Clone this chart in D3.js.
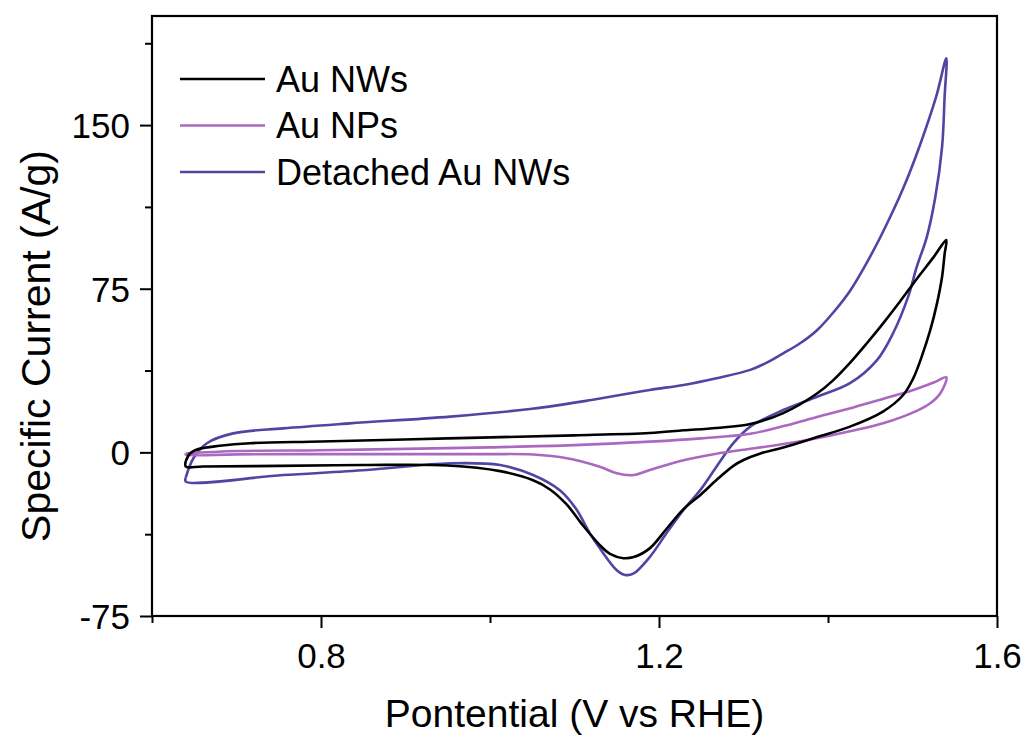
<!DOCTYPE html>
<html>
<head>
<meta charset="utf-8">
<script src="https://cdn.jsdelivr.net/npm/d3@7"></script>
<style>
  body { margin: 0; background: #fff; }
  text { font-family: "Liberation Sans", Arial, Helvetica, sans-serif; fill: #000; }
</style>
</head>
<body>
<svg id="chart" width="1027" height="737"></svg>
<script>
// ---------- data ----------
const seriesNames  = ["Au NWs", "Au NPs", "Detached Au NWs"];
const seriesColors = ["#000000", "#ab68c0", "#4f46a3"];

const xMajorTicks = [0.8, 1.2, 1.6];
const xMinorTicks = [0.6, 1.0, 1.4];
const yMajorTicks = [-75, 0, 75, 150];
const yMinorTicks = [-37.5, 37.5, 112.5, 187.5];

// Au NWs (black) — anodic (forward) and cathodic (reverse) scans
const nwFwdE = [0.640, 0.645, 0.655, 0.680, 0.716, 0.800, 0.950, 1.100, 1.189, 1.229, 1.268, 1.308, 1.347, 1.387, 1.406, 1.426, 1.446, 1.465, 1.485, 1.505, 1.525, 1.540];
const nwFwdI = [-4, -0.5, 1.5, 3, 4.2, 5, 6.4, 7.8, 8.9, 10.1, 11.2, 13, 18, 27, 33, 41, 50, 59, 69, 79.5, 89.5, 97.3];
const nwRevE = [1.540, 1.538, 1.535, 1.529, 1.521, 1.511, 1.501, 1.489, 1.465, 1.426, 1.387, 1.347, 1.320, 1.300, 1.288, 1.268, 1.249, 1.229, 1.209, 1.189, 1.170, 1.158, 1.142, 1.130, 1.110, 1.091, 1.071, 1.051, 1.012, 0.950, 0.850, 0.750, 0.660, 0.640];
const nwRevI = [97.3, 91, 80.5, 68.3, 56, 44, 34, 26.3, 18.7, 11.8, 7.0, 2.2, -0.5, -3.5, -6.2, -12.7, -19.5, -26, -35, -44, -48, -48.5, -46.5, -42.5, -33.5, -24, -17, -12.8, -8.6, -6.0, -5.8, -6.2, -6.5, -6.5];

// Au NPs (pink)
const npFwdE = [0.640, 0.700, 0.800, 0.900, 1.000, 1.100, 1.189, 1.250, 1.308, 1.350, 1.387, 1.430, 1.465, 1.501, 1.525, 1.540];
const npFwdI = [-0.5, 0.6, 1.0, 1.6, 2.3, 3.3, 4.9, 6.4, 8.5, 12.3, 16.2, 20.6, 24.5, 28.6, 32, 34.4];
const npRevE = [1.540, 1.533, 1.521, 1.505, 1.465, 1.406, 1.347, 1.300, 1.268, 1.229, 1.189, 1.170, 1.150, 1.130, 1.091, 1.051, 1.000, 0.900, 0.800, 0.700, 0.640];
const npRevI = [34.4, 27.1, 22.5, 19, 13.3, 8, 3.8, 1.2, -0.6, -3.6, -8.1, -10.4, -9.6, -6.6, -2.7, -1.0, -0.8, -0.8, -0.8, -0.9, -1.0];

// Detached Au NWs (blue)
const dnFwdE = [0.640, 0.649, 0.665, 0.696, 0.755, 0.834, 0.953, 1.050, 1.120, 1.189, 1.229, 1.268, 1.308, 1.327, 1.347, 1.367, 1.387, 1.406, 1.426, 1.446, 1.465, 1.489, 1.509, 1.528, 1.540];
const dnFwdI = [-11.5, -2.7, 4.2, 8.7, 11, 13.3, 16.4, 20, 24, 28.6, 30.9, 34, 37.8, 41, 45.4, 50, 56, 64, 74, 87, 101, 121, 141, 163, 180.6];
const dnRevE = [1.540, 1.538, 1.535, 1.527, 1.517, 1.505, 1.495, 1.477, 1.458, 1.426, 1.387, 1.347, 1.308, 1.288, 1.268, 1.249, 1.229, 1.209, 1.189, 1.170, 1.160, 1.150, 1.130, 1.118, 1.102, 1.083, 1.051, 1.012, 0.953, 0.854, 0.755, 0.640];
const dnRevI = [180.6, 163, 140, 117, 98.8, 85, 71.5, 54.6, 42.3, 31.7, 25.5, 19.4, 11.8, 4.2, -6.6, -17.2, -26.4, -37, -48, -55.5, -56.2, -54, -44, -37, -26, -17.5, -10.4, -5.8, -5.0, -8.1, -10.4, -13.4];

// ---------- layout ----------
const svg = d3.select("#chart");
const W = 1027, H = 737;
const plot = { left: 152, right: 997, top: 16, bottom: 616 };

svg.append("rect").attr("width", W).attr("height", H).attr("fill", "#fff");

const x = d3.scaleLinear().domain([0.6, 1.6]).range([plot.left, plot.right]);
const y = d3.scaleLinear().domain([-75, 200]).range([plot.bottom, plot.top]);

function loop(fE, fI, rE, rI) {
  const pts = fE.map((e, i) => [e, fI[i]]);
  rE.forEach((e, i) => { if (i > 0) pts.push([e, rI[i]]); });
  pts.push([fE[0], fI[0]]);
  return pts;
}
const loops = [
  loop(nwFwdE, nwFwdI, nwRevE, nwRevI),
  loop(npFwdE, npFwdI, npRevE, npRevI),
  loop(dnFwdE, dnFwdI, dnRevE, dnRevI)
];

const line = d3.line()
  .x(d => x(d[0])).y(d => y(d[1]))
  .curve(d3.curveCatmullRom.alpha(0.5));

const drawOrder = [2, 1, 0];
drawOrder.forEach(k => {
  svg.append("path")
    .datum(loops[k])
    .attr("d", line)
    .attr("fill", "none")
    .attr("stroke", seriesColors[k])
    .attr("stroke-width", 2.6)
    .attr("stroke-linejoin", "round");
});

// ---------- axes ----------
const fontTick = 35;
const plainNum = d => String(d);

const xAxisMajor = d3.axisBottom(x).tickValues(xMajorTicks).tickSize(12).tickSizeOuter(0).tickFormat(d3.format(".1f"));
const xAxisMinor = d3.axisBottom(x).tickValues(xMinorTicks).tickSize(7).tickSizeOuter(0).tickFormat("");
const yAxisMajor = d3.axisLeft(y).tickValues(yMajorTicks).tickSize(12).tickSizeOuter(0).tickFormat(plainNum);
const yAxisMinor = d3.axisLeft(y).tickValues(yMinorTicks).tickSize(7).tickSizeOuter(0).tickFormat("");

function styleAxis(g) {
  g.select(".domain").remove();
  g.selectAll(".tick line").attr("stroke", "#000").attr("stroke-width", 2);
  g.selectAll("text").attr("font-size", fontTick).attr("font-family", "'Liberation Sans', Arial, sans-serif").attr("fill", "#000");
}

const gxM = svg.append("g").attr("transform", `translate(0,${plot.bottom})`).call(xAxisMajor).call(styleAxis);
gxM.selectAll("text").attr("y", 0).attr("dy", null).attr("transform", "translate(0,52)");
svg.append("g").attr("transform", `translate(0,${plot.bottom})`).call(xAxisMinor).call(styleAxis);

const gyM = svg.append("g").attr("transform", `translate(${plot.left},0)`).call(yAxisMajor).call(styleAxis);
gyM.selectAll("text").attr("x", -22).attr("dy", "0.36em");
svg.append("g").attr("transform", `translate(${plot.left},0)`).call(yAxisMinor).call(styleAxis);

// frame
svg.append("rect")
  .attr("x", plot.left).attr("y", plot.top)
  .attr("width", plot.right - plot.left).attr("height", plot.bottom - plot.top)
  .attr("fill", "none").attr("stroke", "#000").attr("stroke-width", 2.2);

// axis titles
svg.append("text")
  .attr("x", (plot.left + plot.right) / 2)
  .attr("y", 727)
  .attr("text-anchor", "middle")
  .attr("font-size", 39)
  .text("Pontential (V vs RHE)");

svg.append("text")
  .attr("transform", `translate(50,346) rotate(-90)`)
  .attr("text-anchor", "middle")
  .attr("font-size", 41)
  .text("Specific Current (A/g)");

// ---------- legend ----------
const legendY = [79, 125.5, 172];
seriesNames.forEach((name, i) => {
  svg.append("line")
    .attr("x1", 180).attr("x2", 265)
    .attr("y1", legendY[i]).attr("y2", legendY[i])
    .attr("stroke", seriesColors[i]).attr("stroke-width", 2.6);
  svg.append("text")
    .attr("x", 276)
    .attr("y", legendY[i])
    .attr("dy", "0.36em")
    .attr("font-size", 36)
    .text(name);
});
</script>
</body>
</html>
